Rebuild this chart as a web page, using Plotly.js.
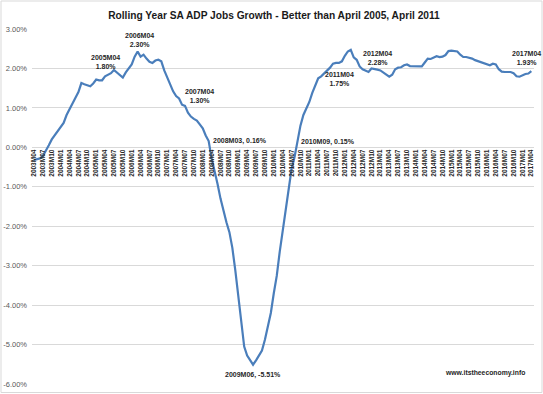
<!DOCTYPE html>
<html>
<head>
<meta charset="utf-8">
<script src="https://cdn.plot.ly/plotly-3.0.1.min.js"></script>
<style>html,body{margin:0;padding:0;background:#fff;}#chart{width:543px;height:394px;}</style>
</head>
<body>
<div id="chart"></div>
<script>
// Categories: monthly, 2003M04 .. 2017M04
var months = [];
(function(){
  var y = 2003, m = 4;
  while (y < 2017 || (y === 2017 && m <= 4)) {
    months.push(y + 'M' + (m < 10 ? '0' + m : '' + m));
    m++; if (m > 12) { m = 1; y++; }
  }
})();

// Rolling year growth, percent
var growth = [
  -0.32, -0.30, -0.28, -0.22, -0.10, 0.05, 0.20, 0.30, 0.42, 0.50,
  0.62, 0.82, 0.98, 1.12, 1.26, 1.40, 1.63, 1.60, 1.57, 1.55,
  1.62, 1.72, 1.70, 1.70, 1.80, 1.83, 1.88, 1.96, 1.90, 1.82,
  1.77, 1.90, 2.00, 2.10, 2.30, 2.43, 2.30, 2.35, 2.25, 2.17,
  2.14, 2.20, 2.22, 2.18, 1.95, 1.78, 1.62, 1.42, 1.30, 1.24,
  1.08, 1.05, 0.88, 0.78, 0.72, 0.68, 0.58, 0.48, 0.30, 0.16,
  -0.28, -0.58, -0.93, -1.30, -1.62, -1.90, -2.15, -2.55, -3.12, -3.82,
  -4.50, -5.05, -5.28, -5.38, -5.51, -5.40, -5.27, -5.15, -4.88, -4.55,
  -4.20, -3.70, -3.26, -2.65, -2.10, -1.55, -1.00, -0.55, -0.25, 0.15,
  0.55, 0.82, 1.00, 1.15, 1.38, 1.55, 1.75, 1.80, 1.87, 1.95,
  2.02, 2.12, 2.14, 2.14, 2.18, 2.32, 2.43, 2.47, 2.28, 2.22,
  2.05, 1.98, 1.95, 1.91, 2.00, 1.99, 1.97, 1.95, 1.90, 1.83,
  1.79, 1.84, 1.98, 2.02, 2.03, 2.08, 2.10, 2.06, 2.06, 2.05,
  2.05, 2.05, 2.15, 2.25, 2.24, 2.27, 2.31, 2.29, 2.30, 2.34,
  2.44, 2.45, 2.44, 2.43, 2.35, 2.29, 2.29, 2.27, 2.25, 2.21,
  2.18, 2.15, 2.12, 2.09, 2.08, 2.12, 2.10, 1.98, 1.92, 1.91,
  1.91, 1.91, 1.88, 1.80, 1.79, 1.83, 1.86, 1.87, 1.93
];

// Tick labels
var xTickVals = months.filter(function(d, i){ return i % 3 === 0; });
var xTickText = xTickVals.map(function(d){ return '<b>' + d + '</b>'; });
var yTickVals = [-6, -5, -4, -3, -2, -1, 0, 1, 2, 3];
var yTickText = ['-6.00%', '-5.00%', '-4.00%', '-3.00%', '-2.00%', '-1.00%', '0.00%', '1.00%', '2.00%', '3.00%'];

// Callout labels
var calloutText = ['2005M04<br>1.80%', '2006M04<br>2.30%', '2007M04<br>1.30%', '2008M03, 0.16%',
                   '2009M06, -5.51%', '2010M09, 0.15%', '2011M04<br>1.75%', '2012M04<br>2.28%', '2017M04<br>1.93%'];
var calloutPos = [[24, 2.16], [35.8, 2.73], [55.8, 1.31], [69.6, 0.165],
                  [74.1, -5.77], [99.2, 0.145], [103.1, 1.74], [116, 2.27], [166.2, 2.27]];
var sourceText = 'www.itstheeconomy.info';

var FONT = 'Liberation Sans, Arial, sans-serif';

var annotations = calloutText.map(function(t, k){
  return {
    x: calloutPos[k][0], y: calloutPos[k][1], xref: 'x', yref: 'y',
    text: '<b>' + t + '</b>', showarrow: false, xanchor: 'center', yanchor: 'middle',
    font: {family: FONT, size: 7, color: '#262626'}
  };
});
annotations.push({
  x: 152.4, y: -5.73, xref: 'x', yref: 'y', text: '<b>' + sourceText + '</b>', showarrow: false,
  xanchor: 'center', yanchor: 'middle', font: {family: FONT, size: 6.8, color: '#262626'}
});

var trace = {
  x: months, y: growth, type: 'scatter', mode: 'lines',
  line: {color: '#4a7ebb', width: 2.2},
  hoverinfo: 'x+y'
};

var layout = {
  width: 543, height: 394,
  margin: {l: 32, r: 9, t: 29, b: 10, pad: 0},
  paper_bgcolor: '#ffffff', plot_bgcolor: '#ffffff',
  showlegend: false,
  title: {
    text: '<b>Rolling Year SA ADP Jobs Growth - Better than April 2005, April 2011</b>',
    font: {family: FONT, size: 10.2, color: '#1a1a1a'},
    x: 0.482, xanchor: 'center', y: 1 - 15/394, yanchor: 'middle', xref: 'paper', yref: 'container'
  },
  xaxis: {
    type: 'category',
    range: [-0.68, 168.9],
    tickmode: 'array', tickvals: xTickVals, ticktext: xTickText,
    tickangle: -90,
    tickfont: {family: FONT, size: 6.5, color: '#262626'},
    ticks: '', showgrid: false, zeroline: false, showline: false,
    anchor: 'free', position: 6/9,
    fixedrange: true
  },
  yaxis: {
    range: [-6, 3],
    tickmode: 'array', tickvals: yTickVals, ticktext: yTickText,
    tickfont: {family: FONT, size: 7.5, color: '#595959'},
    showgrid: true, gridcolor: '#d9d9d9', gridwidth: 1,
    zeroline: false, showline: false, ticks: '',
    ticklabelstandoff: 4,
    fixedrange: true
  },
  annotations: annotations,
  shapes: [{
    type: 'rect', xref: 'paper', yref: 'paper',
    x0: -31/502, x1: 1 + 8/502, y0: -8.5/355, y1: 1 + 28/355,
    line: {color: '#d9d9d9', width: 1}, fillcolor: 'rgba(0,0,0,0)', layer: 'below'
  }]
};

Plotly.newPlot('chart', [trace], layout, {displayModeBar: false, staticPlot: true});
</script>
</body>
</html>
